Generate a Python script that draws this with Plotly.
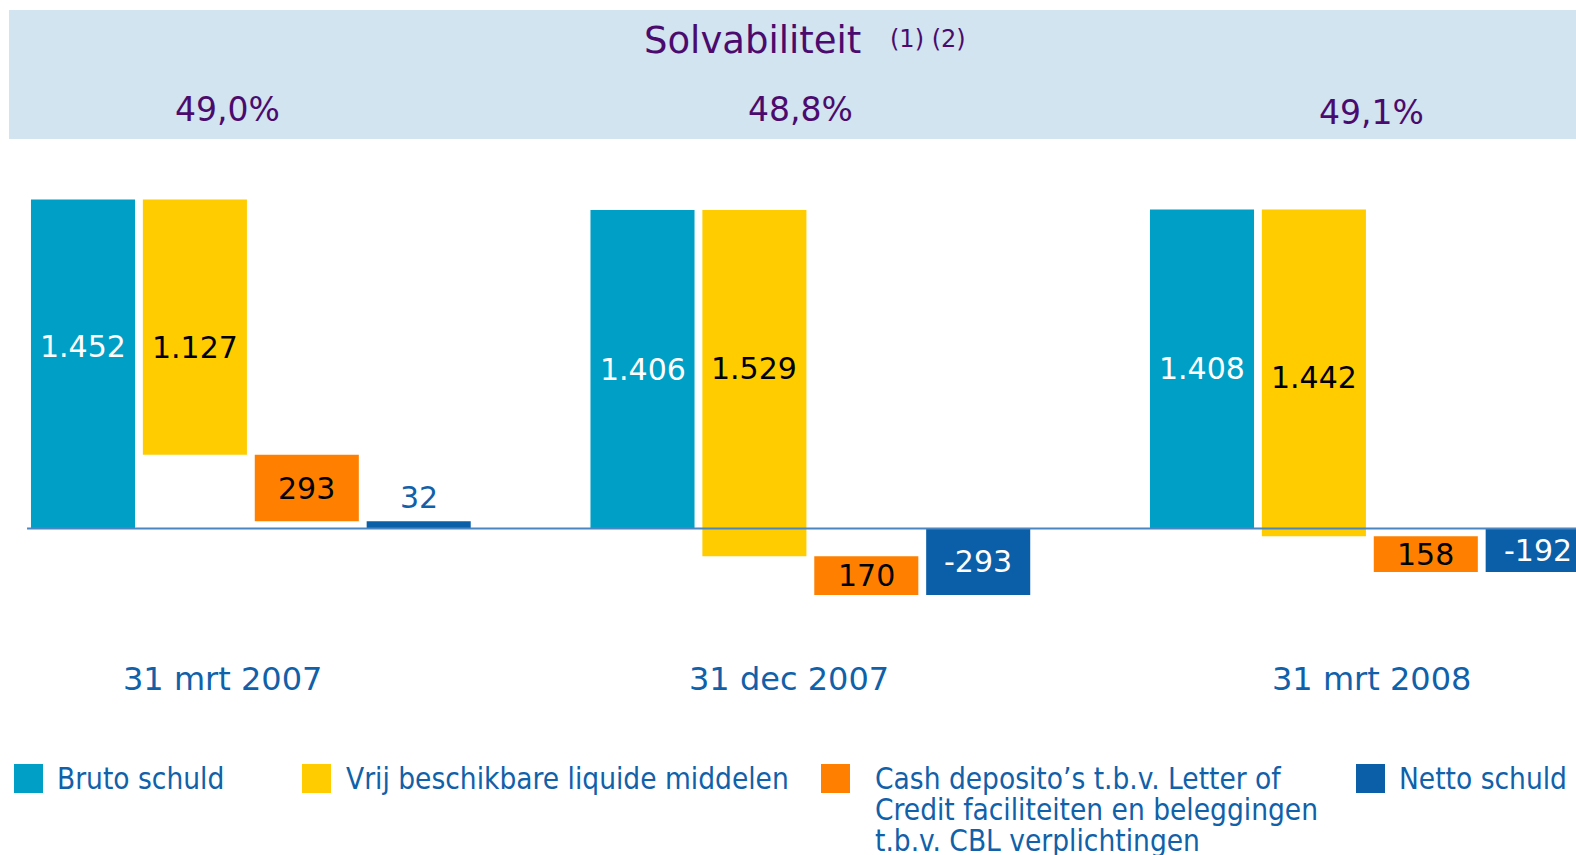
import plotly.graph_objects as go

# ---------------- data ----------------
categories = ["31 mrt 2007", "31 dec 2007", "31 mrt 2008"]
solvabiliteit = ["49,0%", "48,8%", "49,1%"]
bruto_schuld = [1452, 1406, 1408]
liquide_middelen = [1127, 1529, 1442]
cash_deposito = [293, 170, 158]
netto_schuld = [32, -293, -192]
series_names = [
    "Bruto schuld",
    "Vrij beschikbare liquide middelen",
    "Cash deposito\u2019s t.b.v. Letter of\nCredit faciliteiten en beleggingen\nt.b.v. CBL verplichtingen",
    "Netto schuld",
]
title_text = "Solvabiliteit"
title_note = "(1) (2)"

# ---------------- styling / layout constants ----------------
W, H = 1576, 855
FONT = "DejaVu Sans"
LEGEND_FONT = "DejaVu Sans Condensed, DejaVu Sans"
PURPLE = "#4b0b6e"
BLUE_TXT = "#1061a9"
colors = ["#00a0c6", "#ffcc00", "#ff8000", "#0b5fa8"]
label_colors = ["white", "black", "black", "white"]
# vertical nudge (px, + = up) of the value label inside each bar, per series/group
label_nudge = [[17, 0, 0], [-20, 15, -5], [0, 0, 0], [0, 0, 0]]

PX_PER_UNIT = 111.9      # horizontal pixels per bar slot
FIRST_BAR_PX = 83        # centre of first bar
ZERO_PX = 528.5          # pixel row of zero line
PX_PER_VALUE = 0.2266    # vertical pixels per unit of value
GROUP_STEP = 5
BAR_WIDTH = 0.93
VAL_SIZE = 30

xr = [-FIRST_BAR_PX / PX_PER_UNIT, (W - FIRST_BAR_PX) / PX_PER_UNIT]
yr = [-(H - ZERO_PX) / PX_PER_VALUE, ZERO_PX / PX_PER_VALUE]


def nl(v):
    return f"{v:,}".replace(",", ".")


def px(x, y):
    return x / W, 1 - y / H


n = len(categories)
bases = [
    [0] * n,
    [b - l for b, l in zip(bruto_schuld, liquide_middelen)],
    [b - l - c for b, l, c in zip(bruto_schuld, liquide_middelen, cash_deposito)],
    [0] * n,
]
values = [bruto_schuld, liquide_middelen, cash_deposito, netto_schuld]

fig = go.Figure()
annotations = []
for i, (vals, base) in enumerate(zip(values, bases)):
    xs = [g * GROUP_STEP + i for g in range(n)]
    fig.add_trace(go.Bar(
        x=xs,
        y=vals,
        base=base,
        width=BAR_WIDTH,
        marker=dict(color=colors[i], line=dict(width=0)),
        name=series_names[i].replace("\n", " "),
        showlegend=False,
        hoverinfo="skip",
    ))
    for g, (x, v, b) in enumerate(zip(xs, vals, base)):
        small_positive = (i == 3 and 0 < v < 100)
        if small_positive:
            annotations.append(dict(
                text=nl(v), x=x, y=b + v, xref="x", yref="y",
                xanchor="center", yanchor="bottom", yshift=4, showarrow=False,
                font=dict(family=FONT, size=VAL_SIZE, color=BLUE_TXT)))
        else:
            annotations.append(dict(
                text=nl(v), x=x, y=b + v / 2, xref="x", yref="y",
                xanchor="center", yanchor="middle", yshift=label_nudge[i][g],
                showarrow=False,
                font=dict(family=FONT, size=VAL_SIZE, color=label_colors[i])))

shapes = []
# header band
x0, y0 = px(9, 10)
x1, y1 = px(W, 139)
shapes.append(dict(type="rect", xref="paper", yref="paper", x0=x0, x1=x1, y0=y1, y1=y0,
                   fillcolor="#d1e4ef", line=dict(width=0), layer="below"))
# zero line
shapes.append(dict(type="line", xref="x", yref="y", x0=-0.5, x1=xr[1], y0=0, y1=0,
                   line=dict(color="#4a86c2", width=2), layer="above"))

# title
tx, ty = px(752, 41)
annotations.append(dict(text=title_text, xref="paper", yref="paper", x=tx, y=ty,
                        xanchor="center", yanchor="middle", showarrow=False,
                        font=dict(family=FONT, size=37, color=PURPLE)))
tx, ty = px(928, 39)
annotations.append(dict(text=title_note, xref="paper", yref="paper", x=tx, y=ty,
                        xanchor="center", yanchor="middle", showarrow=False,
                        font=dict(family=FONT, size=24, color=PURPLE)))
# solvency percentages
pct_pos = [(228, 109), (800, 109), (1371, 112)]
for t, (x, y) in zip(solvabiliteit, pct_pos):
    ax, ay = px(x, y)
    annotations.append(dict(text=t, xref="paper", yref="paper", x=ax, y=ay,
                            xanchor="center", yanchor="middle", showarrow=False,
                            font=dict(family=FONT, size=33, color=PURPLE)))
# category labels
cat_pos = [(222, 679), (789, 679), (1371, 679)]
for t, (x, y) in zip(categories, cat_pos):
    ax, ay = px(x, y)
    annotations.append(dict(text=t, xref="paper", yref="paper", x=ax, y=ay,
                            xanchor="center", yanchor="middle", showarrow=False,
                            font=dict(family=FONT, size=32, color=BLUE_TXT)))
# legend
sq_x = [14, 302, 821, 1356]
txt_x = [55, 344, 873, 1397]
SQ_TOP, SQ = 764, 29
LINE0, LINE_H = 779, 31
for i, name in enumerate(series_names):
    a0, b0 = px(sq_x[i], SQ_TOP)
    a1, b1 = px(sq_x[i] + SQ, SQ_TOP + SQ)
    shapes.append(dict(type="rect", xref="paper", yref="paper", x0=a0, x1=a1, y0=b1, y1=b0,
                       fillcolor=colors[i], line=dict(width=0)))
    for k, line in enumerate(name.split("\n")):
        ax, ay = px(txt_x[i], LINE0 + k * LINE_H)
        annotations.append(dict(text=line, xref="paper", yref="paper", x=ax, y=ay,
                                xanchor="left", yanchor="middle", showarrow=False,
                                font=dict(family=LEGEND_FONT, size=29.5, color=BLUE_TXT)))

fig.update_layout(
    width=W, height=H,
    margin=dict(l=0, r=0, t=0, b=0),
    paper_bgcolor="white", plot_bgcolor="white",
    barmode="overlay",
    xaxis=dict(range=xr, visible=False, fixedrange=True),
    yaxis=dict(range=yr, visible=False, fixedrange=True),
    shapes=shapes, annotations=annotations,
    showlegend=False,
)
fig.write_html(
    "out.html",
    config={"displayModeBar": False},
    post_script="document.body.style.margin='0';document.body.style.padding='0';"
                "document.documentElement.style.overflow='hidden';",
)
